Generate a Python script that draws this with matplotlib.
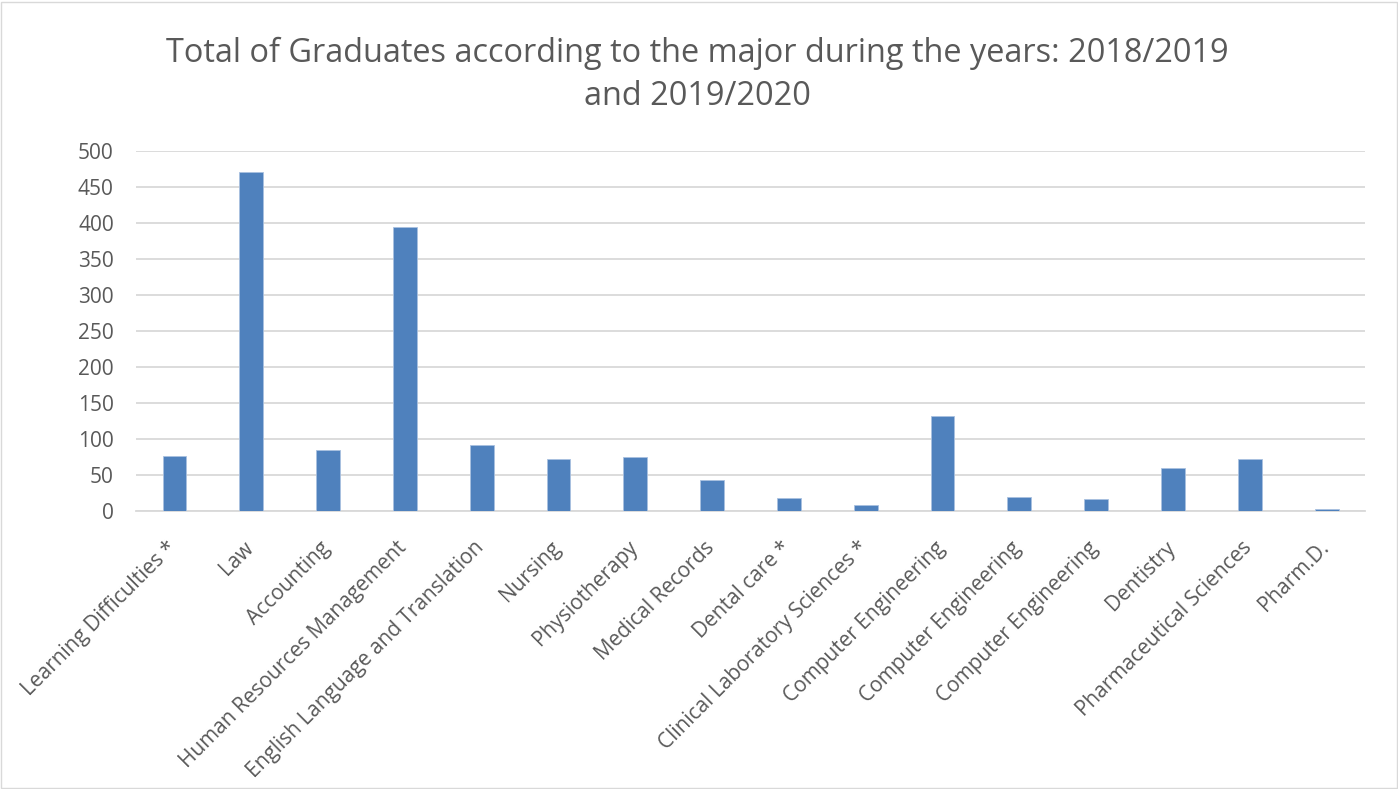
import matplotlib
matplotlib.use("Agg")
import matplotlib.pyplot as plt
import matplotlib.transforms as mtransforms
from matplotlib.patches import Rectangle

majors = ['Learning Difficulties *', 'Law', 'Accounting', 'Human Resources Management',
          'English Language and Translation', 'Nursing', 'Physiotherapy', 'Medical Records',
          'Dental care *', 'Clinical Laboratory Sciences *', 'Computer Engineering',
          'Computer Engineering', 'Computer Engineering', 'Dentistry',
          'Pharmaceutical Sciences', 'Pharm.D.']
graduates = [76, 471, 85, 395, 92, 72, 75, 43, 18, 8, 132, 19, 16, 59, 72, 3]
yticks = [0, 50, 100, 150, 200, 250, 300, 350, 400, 450, 500]

plt.rcParams['font.family'] = ['Open Sans', 'DejaVu Sans']
text_col = '#595959'
grid_col = '#d9d9d9'

fig = plt.figure(figsize=(13.98, 7.89), dpi=100)
ax = fig.add_axes([0.0973, 0.3524, 0.8791, 0.4563])

x = range(len(majors))
ax.bar(x, graduates, width=0.31, color='#4f81bd', edgecolor='#a9c1e0', linewidth=0.6, zorder=3)

ax.set_xlim(-0.5, len(majors) - 0.5)
ax.set_ylim(0, 500)
ax.set_yticks(yticks)
ax.set_xticks(list(x))
ax.set_xticklabels(majors, rotation=45, ha='right', rotation_mode='anchor')
ax.tick_params(axis='both', length=0, labelsize=15, colors=text_col)
ax.tick_params(axis='y', pad=16)
ax.tick_params(axis='x', pad=14)
# nudge the slanted labels a little left and down
shift = mtransforms.ScaledTranslation(-6 / 72, -5 / 72, fig.dpi_scale_trans)
for lbl in ax.get_xticklabels():
    lbl.set_transform(lbl.get_transform() + shift)
ax.grid(axis='y', color=grid_col, linewidth=1.3, zorder=0)
for side in ['top', 'right', 'left']:
    ax.spines[side].set_visible(False)
ax.spines['bottom'].set_color(grid_col)
ax.spines['bottom'].set_linewidth(1.3)

fig.text(0.4986, 0.905, 'Total of Graduates according to the major during the years: 2018/2019\nand 2019/2020',
         ha='center', va='center', fontsize=23.4, color=text_col, linespacing=1.4)

fig.patches.append(Rectangle((0.001, 0.001), 0.998, 0.997, transform=fig.transFigure,
                             fill=False, edgecolor=grid_col, linewidth=1))

fig.savefig('out.png', dpi=100)
